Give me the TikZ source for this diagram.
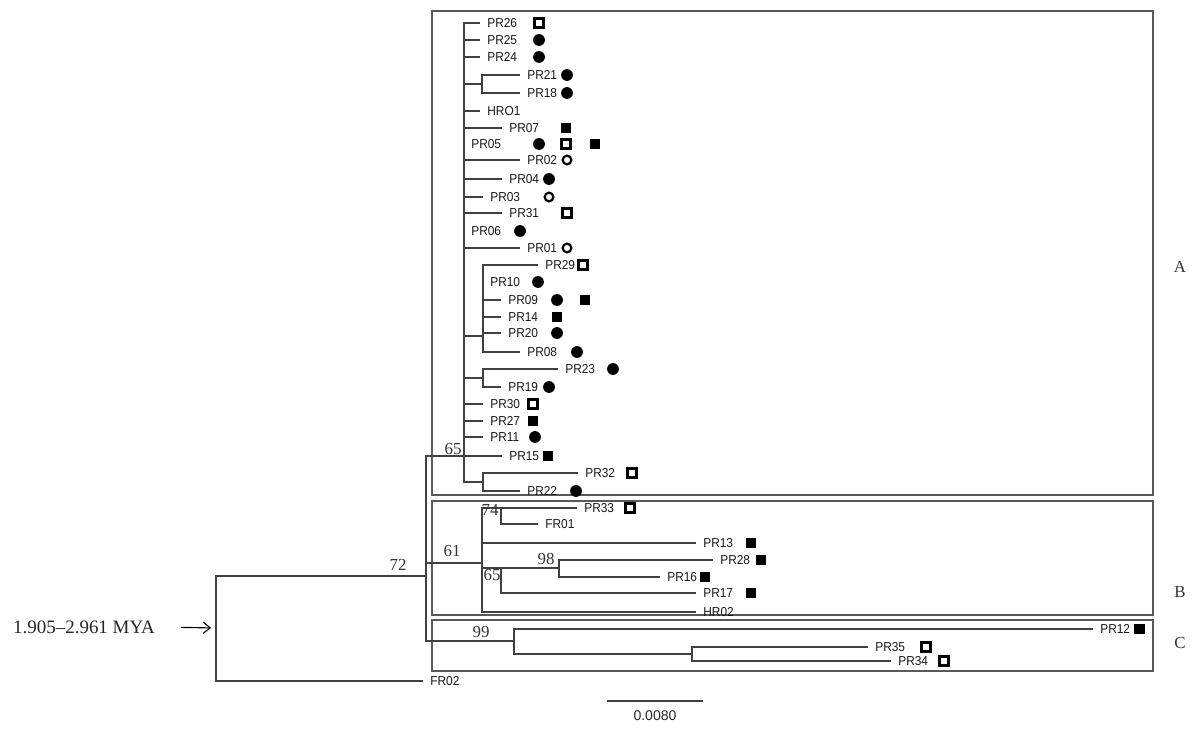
\documentclass[tikz,border=0pt]{standalone}
\usepackage{fontspec}
\setmainfont{Liberation Serif}
\newfontfamily\lblfont[FakeStretch=0.92]{Liberation Sans}
\newfontfamily\barfont{Liberation Sans}
\usetikzlibrary{arrows.meta}

\begin{document}
\begin{tikzpicture}[
    x=0.025cm,y=-0.025cm,
    br/.style={draw=black!75,line width=0.9pt},
    frame/.style={draw=black!65,line width=0.8pt},
    leaf/.style={anchor=west,inner xsep=5pt,inner ysep=1pt,font=\lblfont\fontsize{9.2}{11}\selectfont,text=black!90},
    boot/.style={font=\fontsize{12}{14}\selectfont,text=black!80},
    fc/.style={circle,fill=black,minimum size=8.4pt,inner sep=0pt},
    oc/.style={circle,draw=black,line width=1.6pt,minimum size=6.2pt,inner sep=0pt},
    fs/.style={rectangle,fill=black,minimum size=7.8pt,inner sep=0pt},
    os/.style={rectangle,draw=black,line width=1.8pt,minimum size=6.2pt,inner sep=0pt},
]
\useasboundingbox(0,0)rectangle(1200,734);
% clade frames
\draw[frame](432,11)rectangle(1153,495);
\draw[frame](432,501)rectangle(1153,615);
\draw[frame](432,620)rectangle(1153,671);
\node[boot](labA)at(1180,267){A};
\node[boot](labB)at(1180,592){B};
\node[boot](labC)at(1180,643){C};
% root and main splits
\coordinate(R)at(216,628);
\coordinate(N72)at(426,576);
\coordinate(A)at(464,456);
\coordinate(B)at(482,563);
\coordinate(C)at(514,641);
\node[leaf](FR02)at(423,681){FR02};
\draw[br](R)|-(N72);
\draw[br](R)|-(FR02.west);
\foreach \t in {A,B,C}\draw[br](N72)|-(\t);
\node[font=\fontsize{13.5}{16}\selectfont,text=black!85](mya)at(84,627){1.905--2.961 MYA};
\draw[-{Straight Barb[length=5pt,width=8pt]},line width=0.8pt,shorten <=15pt,shorten >=3.5pt](mya.east)--(R);
% clade A
\node[leaf](PR26)at(480,23){PR26};
\node[leaf](PR25)at(480,40){PR25};
\node[leaf](PR24)at(480,57){PR24};
\coordinate(a1)at(482,84);
\node[leaf](PR21)at(520,75){PR21};
\node[leaf](PR18)at(520,93){PR18};
\node[leaf](HRO1)at(480,111){HRO1};
\node[leaf](PR07)at(502,128){PR07};
\node[leaf](PR05)at(464,144){PR05};
\node[leaf](PR02)at(520,160){PR02};
\node[leaf](PR04)at(502,179){PR04};
\node[leaf](PR03)at(483,197){PR03};
\node[leaf](PR31)at(502,213){PR31};
\node[leaf](PR06)at(464,231){PR06};
\node[leaf](PR01)at(520,248){PR01};
\coordinate(a2)at(483,336);
\node[leaf](PR29)at(538,265){PR29};
\node[leaf](PR10)at(483,282){PR10};
\node[leaf](PR09)at(501,300){PR09};
\node[leaf](PR14)at(501,317){PR14};
\node[leaf](PR20)at(501,333){PR20};
\node[leaf](PR08)at(520,352){PR08};
\coordinate(a3)at(483,378);
\node[leaf](PR23)at(558,369){PR23};
\node[leaf](PR19)at(501,387){PR19};
\node[leaf](PR30)at(483,404){PR30};
\node[leaf](PR27)at(483,421){PR27};
\node[leaf](PR11)at(483,437){PR11};
\node[leaf](PR15)at(502,456){PR15};
\coordinate(a4)at(483,482);
\node[leaf](PR32)at(578,473){PR32};
\node[leaf](PR22)at(520,491){PR22};
\foreach \t in {PR26,PR25,PR24,HRO1,PR07,PR02,PR04,PR03,PR31,PR01,PR30,PR27,PR11,PR15}\draw[br](A)|-(\t.west);
\foreach \t in {a1,a2,a3,a4}\draw[br](A)|-(\t);
\foreach \t in {PR21,PR18}\draw[br](a1)|-(\t.west);
\foreach \t in {PR29,PR09,PR14,PR20,PR08}\draw[br](a2)|-(\t.west);
\foreach \t in {PR23,PR19}\draw[br](a3)|-(\t.west);
\foreach \t in {PR32,PR22}\draw[br](a4)|-(\t.west);
\node[boot](s65a)at(453,449){65};
% clade B
\coordinate(b1)at(501,508);
\node[leaf](PR33)at(577,508){PR33};
\node[leaf](FR01)at(538,524){FR01};
\node[leaf](PR13)at(696,543){PR13};
\coordinate(b2)at(501,568);
\coordinate(b3)at(559,568);
\node[leaf](PR28)at(713,560){PR28};
\node[leaf](PR16)at(660,577){PR16};
\node[leaf](PR17)at(696,593){PR17};
\node[leaf](HR02)at(696,612){HR02};
\foreach \t in {b1,b2}\draw[br](B)|-(\t);
\foreach \t in {PR13,HR02}\draw[br](B)|-(\t.west);
\foreach \t in {PR33,FR01}\draw[br](b1)|-(\t.west);
\draw[br](b2)|-(b3);
\draw[br](b2)|-(PR17.west);
\foreach \t in {PR28,PR16}\draw[br](b3)|-(\t.west);
\node[boot](s72)at(398,565){72};
\node[boot](s61)at(452,551){61};
\node[boot](s74)at(490,510){74};
\node[boot](s65b)at(492,575){65};
\node[boot](s98)at(546,559){98};
% clade C
\node[leaf](PR12)at(1093,629){PR12};
\coordinate(c1)at(692,654);
\node[leaf](PR35)at(868,647){PR35};
\node[leaf](PR34)at(891,661){PR34};
\draw[br](C)|-(PR12.west);
\draw[br](C)|-(c1);
\foreach \t in {PR35,PR34}\draw[br](c1)|-(\t.west);
\node[boot](s99)at(481,632){99};
% host markers
\foreach \s/\x/\y/\n in {os/539/23/m26,fc/539/40/m25,fc/539/57/m24,fc/567/75/m21,fc/567/93/m18,
  fs/566/128/m07,fc/539/144/m05a,os/566/144/m05b,fs/595/144/m05c,oc/567/160/m02,fc/549/179/m04,
  oc/549/197/m03,os/567/213/m31,fc/520/231/m06,oc/567/248/m01,os/583/265/m29,fc/538/282/m10,
  fc/557/300/m09a,fs/585/300/m09b,fs/557/317/m14,fc/557/333/m20,fc/577/352/m08,fc/613/369/m23,
  fc/549/387/m19,os/533/404/m30,fs/533/421/m27,fc/535/437/m11,fs/548/456/m15,os/632/473/m32,
  fc/576/491/m22,os/630/508/m33,fs/751/543/m13,fs/761/560/m28,fs/705/577/m16,fs/751/593/m17,
  fs/1139/629/m12,os/926/647/m35,os/944/661/m34}
  \node[\s](\n)at(\x,\y){};
% scale bar
\coordinate(sb1)at(607,701);
\coordinate(sb2)at(703,701);
\draw[br](sb1)--(sb2);
\node[font=\barfont\fontsize{10}{12}\selectfont,text=black!85](sbl)at(655,716){0.0080};
\end{tikzpicture}
\end{document}
